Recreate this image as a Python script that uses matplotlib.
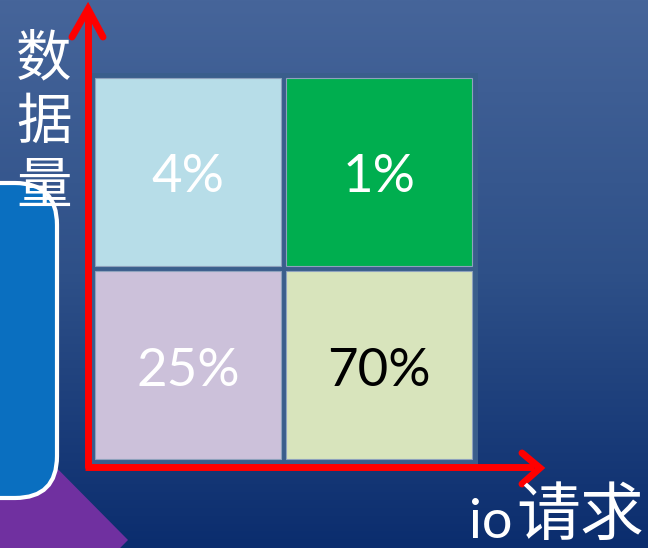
import matplotlib
matplotlib.use("Agg")
from matplotlib import pyplot as plt
from matplotlib.patches import Rectangle, FancyBboxPatch, Polygon
from matplotlib.colors import LinearSegmentedColormap
import numpy as np

plt.rcParams['font.family'] = ['Lato', 'Noto Sans CJK SC', 'DejaVu Sans']

# quadrant data: row 0 = top (high data volume), col 0 = left (low io)
labels = ['4%', '1%', '25%', '70%']
rows = [0, 0, 1, 1]
cols = [0, 1, 0, 1]
cell_colors = ['#b7dde8', '#00ae4f', '#ccc1da', '#d8e4bc']
text_colors = ['white', 'white', 'white', 'black']
y_label = '数据量'
x_label = 'io请求'

W, H = 648, 548
fig = plt.figure(figsize=(W / 100, H / 100), dpi=100)
ax = fig.add_axes([0, 0, 1, 1])
ax.set_xlim(0, W)
ax.set_ylim(H, 0)
ax.axis('off')

# slide background gradient
bg = LinearSegmentedColormap.from_list('bg', ['#46659a', '#2e5088', '#0b2d6e'])
grad = np.linspace(0, 1, 256).reshape(-1, 1)
ax.imshow(grad, cmap=bg, extent=[0, W, H, 0], aspect='auto', zorder=0)

# decorative shapes at the left edge
ax.add_patch(Polygon([(-60, 350), (128, 540), (-60, 730)], closed=True,
                     facecolor='#7030a0', edgecolor='none', zorder=1))
ax.add_patch(FancyBboxPatch((-80, 183), 137, 315,
                            boxstyle='round,pad=0,rounding_size=42',
                            facecolor='#0a6fc0', edgecolor='white', lw=3, zorder=2))

# grid backing
x0, y0, cw, ch, gap = 95, 78, 186, 188, 5
ax.add_patch(Rectangle((x0 - 6, y0 - 5), 2 * cw + gap + 12, 2 * ch + gap + 12,
                       facecolor='#3a5e8c', edgecolor='none', zorder=3))
for lab, r, c, fc, tc in zip(labels, rows, cols, cell_colors, text_colors):
    cx = x0 + c * (cw + gap)
    cy = y0 + r * (ch + gap)
    ax.add_patch(Rectangle((cx, cy), cw, ch, facecolor=fc,
                           edgecolor='#8ea2bd', lw=0.8, zorder=4))
    ax.text(cx + cw / 2, cy + ch / 2 + 6, lab, color=tc, fontsize=38,
            ha='center', va='center', zorder=5)

# red axes with chevron heads
red = '#ff0000'
ax.plot([88, 88], [468, 10], color=red, lw=5, solid_capstyle='butt', zorder=6)
ax.plot([72, 88, 103], [37, 9, 37], color=red, lw=5, solid_capstyle='round',
        solid_joinstyle='miter', zorder=6)
ax.plot([85, 534], [467, 467], color=red, lw=5, solid_capstyle='butt', zorder=6)
ax.plot([522, 540, 522], [453, 468, 484], color=red, lw=5, solid_capstyle='round',
        solid_joinstyle='miter', zorder=6)

# axis titles
for i, ch_ in enumerate(y_label):
    ax.text(44, 60 + i * 64, ch_, color='white', fontsize=40, fontweight='light',
            ha='center', va='center', zorder=7)
ax.text(512, 522, x_label[:2], color='white', fontsize=39,
        ha='right', va='center', zorder=7)
ax.text(644, 518, x_label[2:], color='white', fontsize=46, fontweight='light',
        ha='right', va='center', zorder=7)

fig.savefig('out.png', dpi=100)
